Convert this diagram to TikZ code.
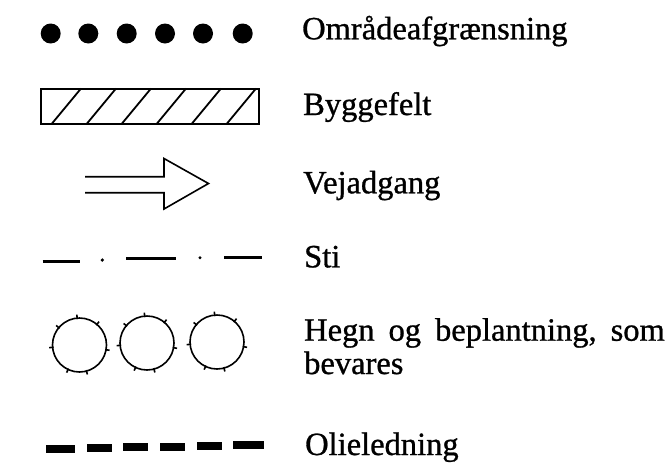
\documentclass[tikz,border=0pt]{standalone}
\usepackage{fontspec}
\setmainfont{Liberation Serif}
\newfontfamily\lblfont[RawFeature={embolden=0.9}]{Liberation Serif}
\begin{document}
\begin{tikzpicture}[x=1pt,y=-1pt,
  lbl/.style={anchor=base west, inner sep=0pt, font=\lblfont\fontsize{32.5}{33.5}\selectfont},
  thinsym/.style={line width=1.6pt, line join=miter},
  stiline/.style={line width=3pt},
  hedge/.style={line width=1.6pt}]
\useasboundingbox (0,0) rectangle (671,464);
% Omraadeafgraensning
\foreach \x in {50.7,88.3,126.7,165,203,242.7} \fill (\x,33.5) circle (10);
% Byggefelt
\draw[line width=2pt] (41,88.5) rectangle (259,123.5);
\foreach \b in {52,87,122,157,192,227} \draw[line width=1.8pt] (\b,123.5) -- (\b+29,88.5);
% Vejadgang
\draw[thinsym] (85,176.7) -- (164,176.7) -- (164,158.5) -- (208.5,183.5) -- (164,209) -- (164,192.7) -- (85,192.7);
% Sti
\draw[stiline] (42.7,261) -- (80,261);
\fill (102.3,260) circle (1.8);
\draw[stiline] (126,258.5) -- (176,258.5);
\fill (200,257.7) circle (1.6);
\draw[stiline] (224,257.3) -- (261.7,257.3);
% Hegn
\foreach \cx/\cy in {79.5/345,147/343,217/342} {
  \draw[hedge] (\cx,\cy) circle (27);
  \foreach \a in {10,75,115,175,220,265,310} \draw[hedge] (\cx,\cy) ++(\a:26) -- ++(\a:4.5);
}
% Olieledning
\foreach \a/\b/\y in {46/75/448.5, 86.7/111.7/447.5, 123/148/447, 160/185/446.5, 196.7/221.7/446, 233/264/445}
  \fill (\a,\y-4) rectangle (\b,\y+4);
% Labels
\node[lbl] (t1) at (302,39.3) {Områdeafgrænsning};
\node[lbl] (t2) at (303,115) {Byggefelt};
\node[lbl] (t3) at (303,193.3) {Vejadgang};
\node[lbl] (t4) at (304,267.3) {Sti};
\node[lbl] (t5) at (304,340.7) {\spaceskip=14pt Hegn og beplantning, som};
\node[lbl] (t6) at (304,374) {bevares};
\node[lbl] (t7) at (305,455) {Olieledning};
\end{tikzpicture}
\end{document}
